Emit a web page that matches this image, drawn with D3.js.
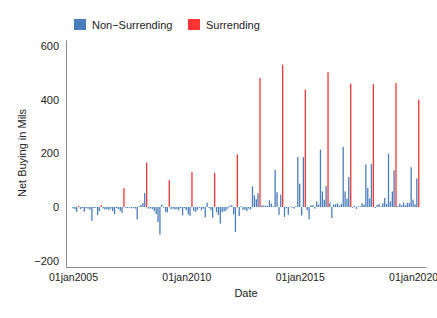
<!DOCTYPE html>
<html><head><meta charset="utf-8">
<script src="https://cdn.jsdelivr.net/npm/d3@7"></script>
<style>
html,body{margin:0;padding:0;background:#fff;}
text{font-family:"Liberation Sans",Arial,Helvetica,sans-serif;fill:#222;}
</style></head>
<body>
<svg id="chart" width="437" height="318"></svg>
<script>
// Monthly data, Jan 2005 .. Apr 2020
const startMonth = "2005-01-01";
const monthCount = 184;
// Non-surrending net buying (null where the month is a surrendering month)
const nonSurrending = [
  -5, -8, -18, null,
  -8, -4, -18, -5, -6, -10, -52, -4, -3, -30, -15, null,
  -5, -10, -8, -12, -6, -15, -27, -4, -8, -14, -22, null,
  -3, -4, -2, -5, -3, -6, -46, 3, 8, 15, 52, null,
  -6, -5, -8, -15, -27, -56, -103, 9, -3, -18, -20, null,
  -8, -6, -10, -7, -12, -4, -31, -5, -12, -28, -33, null,
  -15, -18, -10, -3, -12, -6, -38, 16, -4, -12, -40, null,
  -19, -29, -62, -19, -16, -14, -6, 5, 6, -27, -93, null,
  -34, 3, -10, -10, -15, -6, -9, 77, 43, 29, 52, null,
  6, 6, 5, 4, 25, 12, 3, 138, 55, -29, 46, null,
  -37, -5, -29, 2, -3, -6, 3, 186, 87, -31, 186, null,
  -12, -46, 7, 7, -6, 21, 9, 214, 58, 27, 78, null,
  16, -41, 10, 10, 14, 5, 11, 224, 58, 31, 112, null,
  -3, 5, -7, 3, 3, 14, 9, 159, 71, 32, 161, null,
  -4, 7, 11, 2, 14, 34, 12, 199, 21, 58, 137, null,
  3, 12, 7, 17, 7, 15, 15, 148, 27, 10, 107, null
];
const surrendingMonths = ["2005-04-01","2006-04-01","2007-04-01","2008-04-01","2009-04-01","2010-04-01","2011-04-01","2012-04-01","2013-04-01","2014-04-01","2015-04-01","2016-04-01","2017-04-01","2018-04-01","2019-04-01","2020-04-01"];
const surrending = [4, 7, 70, 165, 100, 130, 127, 196, 481, 530, 437, 502, 460, 458, 462, 400];
const yTicks = [-200, 0, 200, 400, 600];
const xTickDates = ["2005-01-01","2010-01-01","2015-01-01","2020-01-01"];
const xTickLabels = ["01jan2005","01jan2010","01jan2015","01jan2020"];
const seriesNames = ["Non\u2212Surrending", "Surrending"];
const colors = ["#4a7ebb", "#ff3333"];

const parse = d3.utcParse("%Y-%m-%d");
const months = d3.utcMonth.range(parse(startMonth), d3.utcMonth.offset(parse(startMonth), monthCount));
const blueData = months.map((d, i) => ({date: d, v: nonSurrending[i]})).filter(d => d.v !== null);
const redData = surrendingMonths.map((s, i) => ({date: parse(s), v: surrending[i]}));

const svg = d3.select("#chart");
const x = d3.scaleUtc().domain([parse("2004-09-10"), parse("2020-07-27")]).range([66, 426]);
const y = d3.scaleLinear().domain([-223.6, 622.4]).range([267, 40]);
const bw = 1.3;

function drawBars(data, color) {
  svg.append("g").selectAll("rect").data(data).join("rect")
    .attr("x", d => x(d.date) - bw / 2)
    .attr("width", bw)
    .attr("y", d => y(Math.max(0, d.v)))
    .attr("height", d => Math.abs(y(d.v) - y(0)))
    .attr("fill", color);
}
drawBars(blueData, colors[0]);
drawBars(redData, colors[1]);

// Axes
const yAxis = svg.append("g").attr("transform", "translate(66,0)")
  .call(d3.axisLeft(y).tickValues(yTicks).tickSize(0).tickPadding(7)
    .tickFormat(d => d < 0 ? "\u2212" + Math.abs(d) : d));
yAxis.select(".domain").attr("stroke", "#888").attr("stroke-width", 1);
yAxis.selectAll("text").attr("font-size", 11).attr("fill", "#222");

const xAxis = svg.append("g").attr("transform", "translate(0,267)")
  .call(d3.axisBottom(x).tickValues(xTickDates.map(parse)).tickSize(0).tickPadding(7)
    .tickFormat((d, i) => xTickLabels[i]));
xAxis.select(".domain").attr("stroke", "#888").attr("stroke-width", 1);
xAxis.selectAll("text").attr("font-size", 10.5).attr("fill", "#222");

// Axis titles
svg.append("text").attr("x", 246).attr("y", 297).attr("text-anchor", "middle")
  .attr("font-size", 11).text("Date");
svg.append("text").attr("transform", "translate(26,153) rotate(-90)")
  .attr("text-anchor", "middle").attr("font-size", 11).text("Net Buying in Mils");

// Legend
const legendX = [74, 188];
seriesNames.forEach((name, i) => {
  svg.append("rect").attr("x", legendX[i]).attr("y", 19).attr("width", 12).attr("height", 11).attr("fill", colors[i]);
  svg.append("text").attr("x", legendX[i] + 18).attr("y", 28.5).attr("font-size", 11).text(name);
});
</script>
</body></html>
